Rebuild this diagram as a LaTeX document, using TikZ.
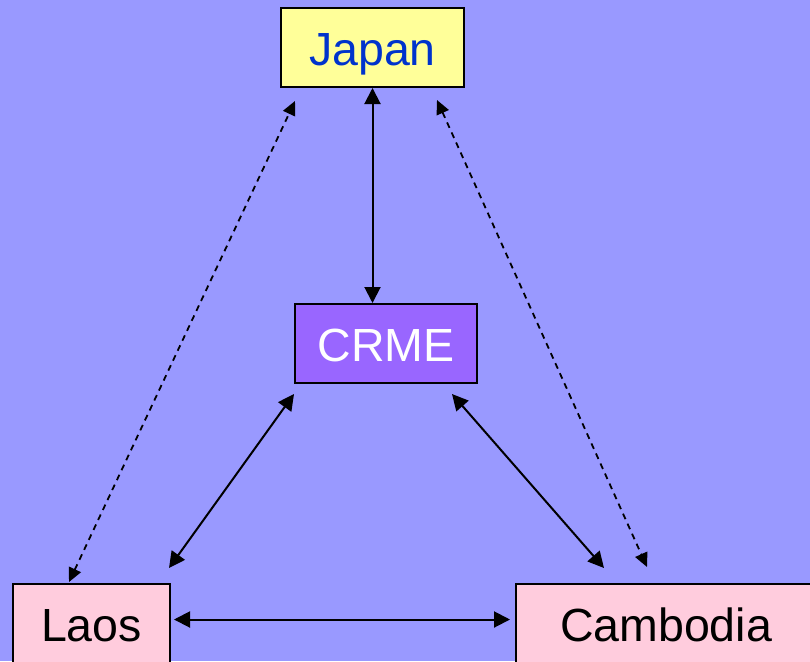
\documentclass[tikz,border=0pt]{standalone}
\usepackage{fontspec}
\setmainfont{Liberation Sans}
\usetikzlibrary{arrows.meta,calc}
\definecolor{bgblue}{HTML}{9999FF}
\definecolor{japanfill}{HTML}{FFFF99}
\definecolor{japantext}{HTML}{0033CC}
\definecolor{crmefill}{HTML}{9966FF}
\definecolor{pinkfill}{HTML}{FFCCDD}
\tikzset{
  box/.style={draw=black, line width=2pt, inner sep=0pt, minimum height=79pt,
    text height=36pt, text depth=0pt,
    font=\fontsize{46.5}{50}\selectfont},
  link/.style={line width=2pt,
    {Triangle[length=16pt,width=16pt]}-{Triangle[length=16pt,width=16pt]}},
  dlink/.style={line width=1.8pt, dash pattern=on 6pt off 5pt,
    {Triangle[length=14pt,width=13pt]}-{Triangle[length=14pt,width=13pt]}}
}
\begin{document}
\begin{tikzpicture}[x=1pt,y=-1pt]
  \fill[bgblue] (0,0) rectangle (810,661);
  \useasboundingbox (0,0) rectangle (810,661);
  \clip (0,0) rectangle (810,661);

  % boxes
  \node[box, fill=japanfill, text=japantext, minimum width=183pt] (japan) at (372.5,47.5) {Japan};
  \node[box, fill=crmefill, text=white, minimum width=182pt] (crme) at (386,343.5) {CRME};
  \node[box, fill=pinkfill, text=black, minimum width=157pt, minimum height=79pt] (laos) at (91.5,623.5) {Laos};
  \node[box, fill=pinkfill, text=black, minimum width=300pt, minimum height=79pt] (camb) at (666,623.5) {Cambodia};

  % solid links
  \draw[link] (japan.south) -- (japan.south |- crme.north);
  \draw[link] ($(laos.east)+(3,-4)$) -- ($(camb.west)+(-5,-4)$);
  \draw[link] ($(laos.north east)+(-2,-15)$) -- ($(crme.south west)+(0,10)$);
  \draw[link] ($(crme.south east)+(-26,10)$) -- ($(camb.north west)+(89,-15)$);

  % dashed links
  \draw[dlink] ($(laos.north west)+(57,-1)$) -- ($(japan.south west)+(15,13)$);
  \draw[dlink] ($(japan.south east)+(-28,12)$) -- ($(camb.north west)+(132,-16)$);
\end{tikzpicture}
\end{document}
